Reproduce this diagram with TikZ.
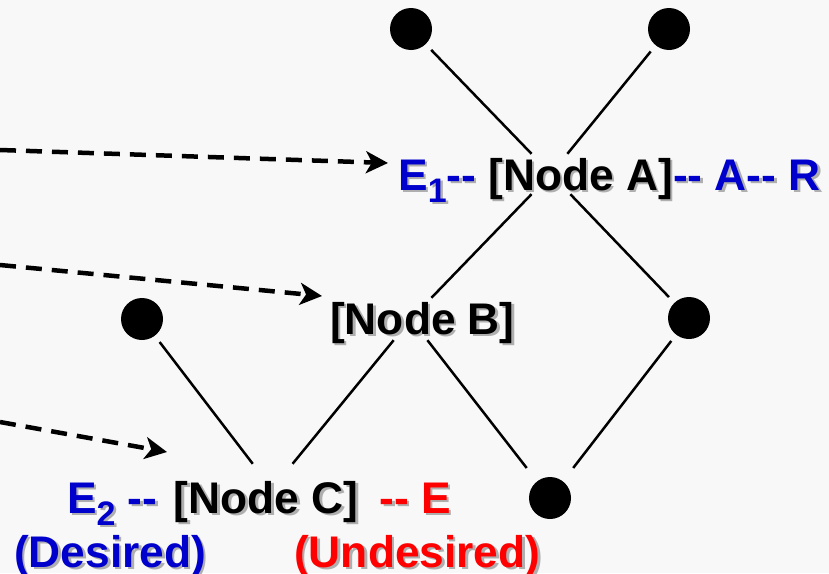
\documentclass[tikz,border=0pt]{standalone}
\usepackage{fontspec}
\setmainfont{Liberation Sans}
\usetikzlibrary{arrows.meta}
\definecolor{bg}{RGB}{248,248,248}
\definecolor{tblue}{RGB}{0,0,204}
\definecolor{tred}{RGB}{255,0,0}
\definecolor{shade}{RGB}{175,175,175}
\newcommand\tc[2]{\textcolor{#1}{#2}}
\newcommand\shd[1]{\rlap{\kern2.5pt\raisebox{-2.5pt}{\def\tc##1##2{##2}\color{shade}#1}}#1}
\newcommand\dd{-\kern0pt-}
\newcommand\sub[1]{\raisebox{-12pt}{\fontsize{34}{34}\selectfont #1}}
\tikzset{
  txt/.style={font=\fontsize{44.3}{50}\selectfont\bfseries, inner sep=0pt, anchor=base west},
  dot/.style={circle, fill=black, minimum size=42pt, inner sep=0pt, outer sep=8pt},
  junc/.style={rectangle, draw=none, inner sep=0pt, minimum width=50pt},
  conn/.style={line width=2.5pt, black},
  dasharrow/.style={line width=4.5pt, dash pattern=on 16pt off 10pt,
    -{Stealth[length=22pt,width=22pt,inset=6pt]}}
}
\begin{document}
\begin{tikzpicture}[x=1pt,y=-1pt]
\path[use as bounding box, fill=bg] (0,0) rectangle (829,573);
% dots
\node[dot] (tl) at (411,29) {};
\node[dot] (tr) at (669,29) {};
\node[dot] (ml) at (142,319) {};
\node[dot] (mr) at (689,318) {};
\node[dot] (bt) at (550,498) {};
% junctions
\node[junc, minimum height=40pt] (A) at (551,174) {};
\node[junc, minimum height=42pt] (B) at (411,319) {};
\node[junc, minimum height=50pt] (C) at (272,489) {};
% connectors
\draw[conn] (tl) -- (A);
\draw[conn] (tr) -- (A);
\draw[conn] (A) -- (B);
\draw[conn] (A) -- (mr);
\draw[conn] (B) -- (C);
\draw[conn] (ml) -- (C);
\draw[conn, shorten >=9pt] (B) -- (bt);
\draw[conn, shorten >=9pt] (mr) -- (bt);
% texts
\node[txt] (la) at (398,190) {\shd{\tc{tblue}{E\sub{1}\dd} [Node A]\tc{tblue}{\dd{} A\dd{} R}}};
\node[txt] (lb) at (330,334) {\shd{[Node B]}};
\node[txt] (lc) at (67,513) {\shd{\tc{tblue}{E\sub{2} \dd}\hspace{4pt} [Node C]\hspace{9pt} \tc{tred}{\dd{} E}}};
\node[txt] (ld) at (14,567) {\shd{\tc{tblue}{(Desired)}}};
\node[txt] (lu) at (294,567) {\shd{\tc{tred}{(Undesired)}}};
% dashed arrows
\coordinate (s1) at (0,150); \coordinate (e1) at (388,163);
\coordinate (s2) at (0,265); \coordinate (e2) at (322,296);
\coordinate (s3) at (0,422); \coordinate (e3) at (167,452);
\draw[dasharrow] (s1) -- (e1);
\draw[dasharrow] (s2) -- (e2);
\draw[dasharrow] (s3) -- (e3);
\end{tikzpicture}
\end{document}
